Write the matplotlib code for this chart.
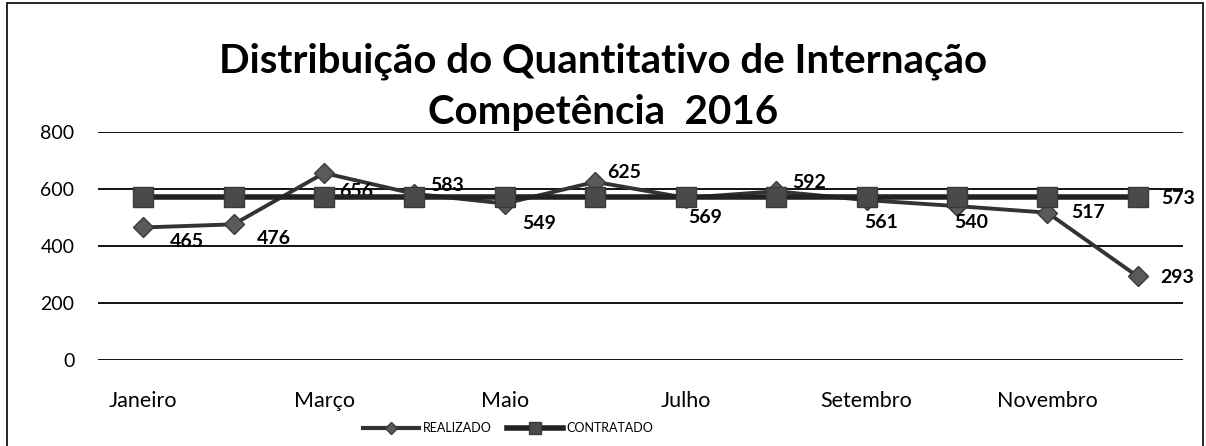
import matplotlib
matplotlib.use("Agg")
import matplotlib.pyplot as plt
from matplotlib.patches import Rectangle
from matplotlib.lines import Line2D

# data
months = ["Janeiro", "Fevereiro", "Março", "Abril", "Maio", "Junho",
          "Julho", "Agosto", "Setembro", "Outubro", "Novembro", "Dezembro"]
realizado = [465, 476, 656, 583, 549, 625, 569, 592, 561, 540, 517, 293]
contratado = [573] * 12
y_ticks = [0, 200, 400, 600, 800]

# label offsets in pixels (dx, dy), picked to match the original placement
real_offsets = [(44, -14), (40, -14), (32, -18), (33, 8), (34, -20), (29, 9),
                (19, -20), (33, 9), (15, -22), (14, -16), (41, 0), (39, -1)]

plt.rcParams["font.family"] = ["Lato", "DejaVu Sans"]

W, H = 1206, 446
fig = plt.figure(figsize=(W / 100, H / 100), dpi=100)
ax = fig.add_axes([98 / W, 1 - 360 / H, (1183 - 98) / W, (360 - 132) / H])

x = list(range(len(months)))

for v in y_ticks:
    ax.axhline(v, color="black", linewidth=1.3, zorder=1)

ax.plot(x, realizado, color="#333333", linewidth=2.8, marker="D", markersize=10,
        markerfacecolor="#5a5a5a", markeredgecolor="#3a3a3a", zorder=2)

for xi, v, (dx, dy) in zip(x, realizado, real_offsets):
    ax.annotate(str(v), (xi, v), xytext=(dx, dy), textcoords="offset pixels",
                ha="center", va="center", fontsize=14, fontweight="bold", zorder=2.5)

ax.plot(x, contratado, color="#222222", linewidth=4, marker="s", markersize=14,
        markerfacecolor="#4a4a4a", markeredgecolor="#3a3a3a", zorder=3)
ax.annotate(str(contratado[-1]), (x[-1], contratado[-1]), xytext=(40, -2),
            textcoords="offset pixels", ha="center", va="center",
            fontsize=14, fontweight="bold", zorder=4)

ax.set_xlim(-0.5, len(months) - 0.5)
ax.set_ylim(0, 800)
ax.set_yticks(y_ticks)
ax.set_yticklabels([str(v) for v in y_ticks], fontsize=14)
ax.set_xticks(x[::2])
ax.set_xticklabels(months[::2], fontsize=15.5)
ax.tick_params(axis="both", length=0)
ax.tick_params(axis="y", pad=17)
ax.tick_params(axis="x", pad=22)
for s in ax.spines.values():
    s.set_visible(False)

fig.text(0.5, 1 - 72 / H, "Distribuição do Quantitativo de Internação",
         ha="center", va="baseline", fontsize=29, fontweight="bold")
fig.text(0.5, 1 - 124 / H, "Competência  2016",
         ha="center", va="baseline", fontsize=29, fontweight="bold")

handles = [
    Line2D([], [], color="#333333", linewidth=3, marker="D", markersize=6,
           markerfacecolor="#5a5a5a", markeredgecolor="#3a3a3a"),
    Line2D([], [], color="#222222", linewidth=4, marker="s", markersize=8,
           markerfacecolor="#4a4a4a", markeredgecolor="#3a3a3a"),
]
fig.legend(handles, ["REALIZADO", "CONTRATADO"], loc="center",
           bbox_to_anchor=(508 / W, 1 - 428 / H), ncol=2, frameon=False,
           fontsize=9, handlelength=4.5, columnspacing=1.2, handletextpad=0.3)

fig.patches.append(Rectangle((7 / W, -0.05), (1203 - 7) / W, 1.05 - 3 / H,
                             transform=fig.transFigure, fill=False,
                             edgecolor="black", linewidth=1.2))

fig.savefig("out.png", dpi=100, facecolor="white")
